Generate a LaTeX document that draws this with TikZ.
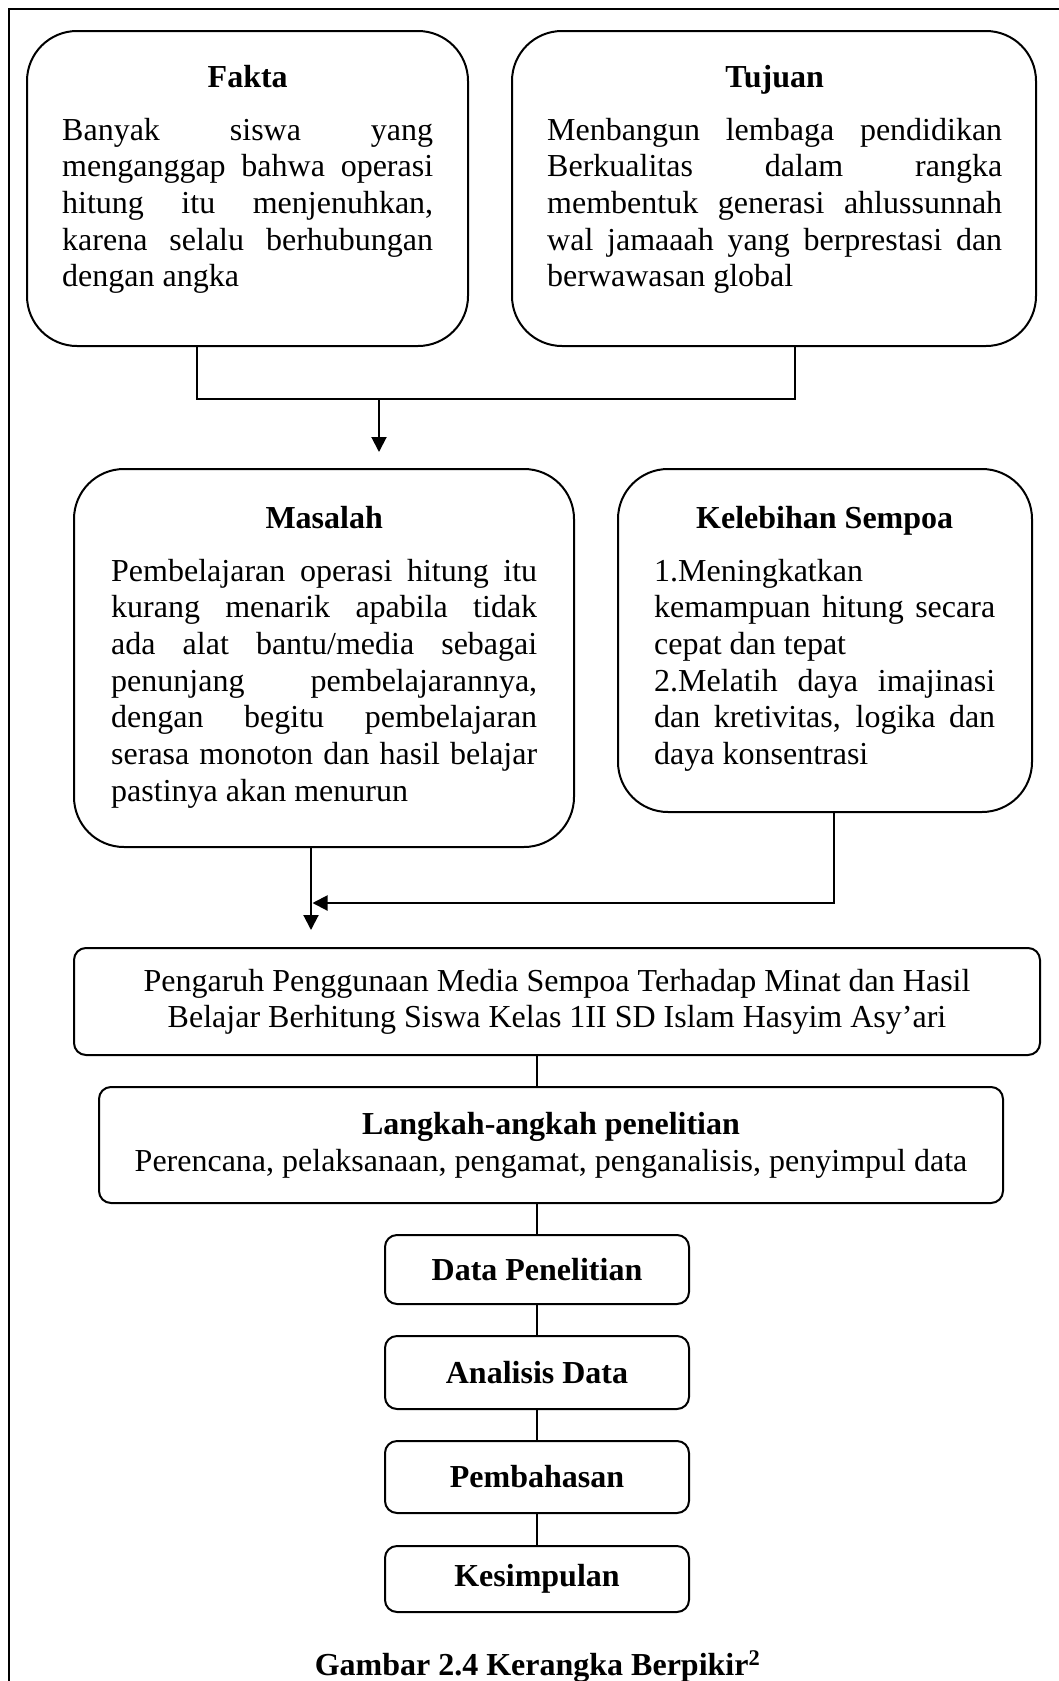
\documentclass[tikz,border=0pt]{standalone}
\usepackage{fontspec}
\setmainfont{Liberation Serif}
\usetikzlibrary{arrows.meta}

% one stretched (justified) line and one flush-left closing line
\newcommand{\justln}[1]{\makebox[\linewidth][s]{#1}\par}
\newcommand{\leftln}[1]{\makebox[\linewidth][l]{#1}\par}

\tikzset{
  bodyfont/.style={font=\fontsize{32}{36.7}\selectfont},
  bigbox/.style={draw, line width=2pt, rounded corners=50pt, inner sep=0pt},
  flatbox/.style={draw, line width=2pt, rounded corners=12pt, inner sep=0pt},
  smallbox/.style={flatbox, minimum width=304pt, font=\fontsize{32}{36}\selectfont\bfseries},
  textblock/.style={bodyfont, inner sep=0pt, anchor=base west},
  conn/.style={line width=2pt},
  thinconn/.style={line width=1.3pt},
  arrowed/.style={conn, -{Triangle[length=15pt,width=15pt]}},
}

\begin{document}
\begin{tikzpicture}[x=1pt,y=-1pt]
\useasboundingbox (0,0) rectangle (1059,1681);

% page frame (top and left edges)
\draw[line width=2.4pt] (1059,9) -- (9,9) -- (9,1681);

% upper pair of boxes
\node[bigbox, minimum width=441pt, minimum height=315pt] (fakta) at (247.5,188.5) {};
\node[textblock] (faktatxt) at (62,87) {\parbox[t]{371pt}{%
  {\centering\bfseries Fakta\par}\vspace{16.3pt}%
  \justln{Banyak siswa yang}%
  \justln{menganggap bahwa operasi}%
  \justln{hitung itu menjenuhkan,}%
  \justln{karena selalu berhubungan}%
  \leftln{dengan angka}}};

\node[bigbox, minimum width=524pt, minimum height=315pt] (tujuan) at (774,188.5) {};
\node[textblock] (tujuantxt) at (547,87) {\parbox[t]{455pt}{%
  {\centering\bfseries Tujuan\par}\vspace{16.3pt}%
  \justln{Menbangun lembaga pendidikan}%
  \justln{Berkualitas dalam rangka}%
  \justln{membentuk generasi ahlussunnah}%
  \justln{wal jamaaah yang berprestasi dan}%
  \leftln{berwawasan global}}};

% middle pair of boxes
\node[bigbox, minimum width=500pt, minimum height=378pt] (masalah) at (324,658) {};
\node[textblock] (masalahtxt) at (111,528) {\parbox[t]{426pt}{%
  {\centering\bfseries Masalah\par}\vspace{16.3pt}%
  \justln{Pembelajaran operasi hitung itu}%
  \justln{kurang menarik apabila tidak}%
  \justln{ada alat bantu/media sebagai}%
  \justln{penunjang pembelajarannya,}%
  \justln{dengan begitu pembelajaran}%
  \justln{serasa monoton dan hasil belajar}%
  \leftln{pastinya akan menurun}}};

\node[bigbox, minimum width=414pt, minimum height=343pt] (kelebihan) at (825,640.5) {};
\node[textblock] (kelebihantxt) at (654,528) {\parbox[t]{341pt}{%
  {\centering\bfseries Kelebihan Sempoa\par}\vspace{16.3pt}%
  \leftln{1.Meningkatkan}%
  \justln{kemampuan hitung secara}%
  \leftln{cepat dan tepat}%
  \justln{2.Melatih daya imajinasi}%
  \justln{dan kretivitas, logika dan}%
  \leftln{daya konsentrasi}}};

% title box and research steps
\node[flatbox, minimum width=966pt, minimum height=107pt, align=center,
      font=\fontsize{32}{36}\selectfont] (pengaruh) at (557,1001.5)
  {Pengaruh Penggunaan Media Sempoa Terhadap Minat dan Hasil\\
   Belajar Berhitung Siswa Kelas 1II SD Islam Hasyim Asy’ari};

\node[flatbox, minimum width=904pt, minimum height=116pt, align=center,
      font=\fontsize{32}{37}\selectfont] (langkah) at (551,1145)
  {\textbf{Langkah-angkah penelitian}\\
   Perencana, pelaksanaan, pengamat, penganalisis, penyimpul data};

\node[smallbox, minimum height=69pt] (data) at (537,1269.5) {Data Penelitian};
\node[smallbox, minimum height=73pt] (analisis) at (537,1372.5) {Analisis Data};
\node[smallbox, minimum height=72pt] (pembahasan) at (537,1477) {Pembahasan};
\node[smallbox, minimum height=66pt] (kesimpulan) at (537,1579) {Kesimpulan};

% caption
\node[font=\fontsize{32}{36}\selectfont\bfseries, anchor=base] (caption) at (537.5,1675)
  {Gambar 2.4 Kerangka Berpikir\textsuperscript{2}};

% connectors
\coordinate (join) at (379,399);
\coordinate (tipa) at (379,452);
\draw[conn] ([xshift=-50.5pt]fakta.south) |- (join) -| ([xshift=21pt]tujuan.south);
\draw[arrowed] (join) -- (tipa);

\coordinate (tipb) at (311,930);
\coordinate (meet) at (312.5,903);
\draw[arrowed] ([xshift=-13pt]masalah.south) -- (tipb);
\draw[arrowed] ([xshift=9pt]kelebihan.south) |- (meet);

\draw[thinconn] (pengaruh.south -| data.north) -- (langkah.north -| data.north);
\draw[thinconn] (langkah.south -| data.north) -- (data.north);
\draw[thinconn] (data.south) -- (analisis.north);
\draw[thinconn] (analisis.south) -- (pembahasan.north);
\draw[thinconn] (pembahasan.south) -- (kesimpulan.north);
\end{tikzpicture}
\end{document}
